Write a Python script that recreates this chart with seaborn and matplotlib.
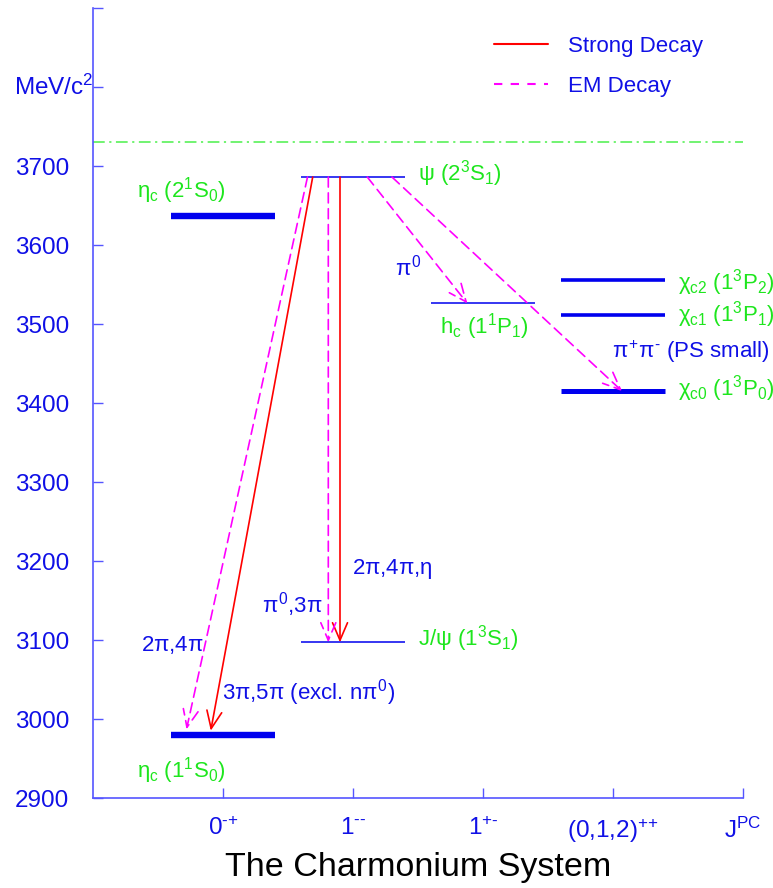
import matplotlib
matplotlib.use("Agg")
import matplotlib.pyplot as plt
from matplotlib.lines import Line2D
from matplotlib.transforms import blended_transform_factory
import seaborn as sns

HY = "\u2010"  # short hyphen for parity superscripts

# J^PC columns along the x axis
jpc_positions = [1, 2, 3, 4, 5]
jpc_labels = [r"0$^{" + HY + "{+}}$", r"1$^{" + HY + HY + "}$", r"1$^{+" + HY + "}$",
              r"(0,1,2)$^{+{+}}$", r"J$^{PC}$"]

# mass axis (MeV/c^2)
mass_ticks = [2900, 3000, 3100, 3200, 3300, 3400, 3500, 3600, 3700, 3800, 3900]
mass_tick_labels = ["2900", "3000", "3100", "3200", "3300", "3400", "3500",
                    "3600", "3700", "", ""]
mass_unit = r"MeV/c$^2$"

# charmonium states
state_names = [r"$\eta_c$ (1$^1$S$_0$)", r"$\eta_c$ (2$^1$S$_0$)",
               r"J/$\psi$ (1$^3$S$_1$)", r"$\psi$ (2$^3$S$_1$)",
               r"h$_c$ (1$^1$P$_1$)", r"$\chi_{c0}$ (1$^3$P$_0$)",
               r"$\chi_{c1}$ (1$^3$P$_1$)", r"$\chi_{c2}$ (1$^3$P$_2$)"]
state_mass = [2980, 3637, 3097, 3686, 3526, 3415, 3511, 3556]
state_column = [1, 1, 2, 2, 3, 4, 4, 4]

# open-charm (D Dbar) threshold
dd_threshold = 3730

# transitions: parent index, daughter index, type, decay products
trans_from = [3, 3, 3, 3, 3, 3]
trans_to = [0, 2, 0, 2, 4, 5]
trans_kind = ["strong", "strong", "em", "em", "em", "em"]

decay_texts = [r"$\pi^0$", r"$\pi^{+}$$\pi^{" + HY + "}$ (PS small)",
               r"2$\pi$,4$\pi$,$\eta$", r"$\pi^0$,3$\pi$", r"2$\pi$,4$\pi$",
               r"3$\pi$,5$\pi$ (excl. n$\pi^0$)"]

# ---- layout / style ----
level_half = 0.4
level_lw = [4.6, 4.6, 1.1, 1.1, 1.1, 3.6, 2.6, 2.6]
label_xy = [(0.34, 2935), (0.34, 3669), (2.5, 3102), (2.5, 3691), (2.67, 3497),
            (4.5, 3418), (4.5, 3512), (4.5, 3553)]
trans_x = [(1.69, 0.90), (1.90, 1.90), (1.65, 0.71), (1.81, 1.81),
           (2.11, 2.88), (2.30, 4.07)]
trans_shrink = [3, 0, 4, 0, 0, 0]
decay_xy = [(2.32, 3572), (3.99, 3465), (1.99, 3190), (1.30, 3145),
            (0.37, 3094), (0.99, 3034)]

BLUE = "#0000ee"
TEXT_BLUE = "#1010e6"
SPINE_BLUE = "#5555ff"
GREEN = "#1ee61e"
LINE_GREEN = "#66f266"
RED = "#ff0000"
MAGENTA = "#ff00ff"

sns.set_theme(style="white")
plt.rcParams["font.family"] = ["Liberation Sans", "DejaVu Sans"]
plt.rcParams["mathtext.fontset"] = "custom"
plt.rcParams["mathtext.rm"] = "Liberation Sans"
plt.rcParams["mathtext.it"] = "Liberation Sans"
plt.rcParams["mathtext.bf"] = "Liberation Sans:bold"
plt.rcParams["mathtext.sf"] = "Liberation Sans"

fig = plt.figure(figsize=(7.73, 8.88), dpi=100)
ax = fig.add_axes([93 / 773, 1 - 798 / 888, 650 / 773, 790 / 888])
ax.set_xlim(0, 5)
ax.set_ylim(2900, 3900)

# threshold line
ax.axhline(dd_threshold, xmin=0, xmax=1.0, color=LINE_GREEN, lw=1.3,
           ls=(0, (6.5, 2.5, 1.2, 2.5)), clip_on=False)

# energy levels
for name, m, col, lw, (lx, ly) in zip(state_names, state_mass, state_column,
                                      level_lw, label_xy):
    ax.hlines(m, col - level_half, col + level_half, color=BLUE, lw=lw)
    ax.text(lx, ly, name, color=GREEN, fontsize=16, ha="left", va="center")

# transitions
for f, t, kind, (x0, x1), sh in zip(trans_from, trans_to, trans_kind,
                                     trans_x, trans_shrink):
    style = dict(color=RED, lw=1.2, ls="-") if kind == "strong" else \
        dict(color=MAGENTA, lw=1.2, ls=(0, (6, 3.5)))
    ax.annotate("", xy=(x1, state_mass[t]), xytext=(x0, state_mass[f]),
                arrowprops=dict(arrowstyle="->,head_length=0.7,head_width=0.3",
                                mutation_scale=18, shrinkA=0, shrinkB=sh,
                                **style))

for txt, (tx, ty) in zip(decay_texts, decay_xy):
    ax.text(tx, ty, txt, color=TEXT_BLUE, fontsize=16, ha="left", va="center")

# axes styling
sns.despine(ax=ax)
for side in ("left", "bottom"):
    ax.spines[side].set_color(SPINE_BLUE)
    ax.spines[side].set_linewidth(1.2)
ax.set_xticks(jpc_positions)
ax.set_xticklabels(jpc_labels)
ax.set_yticks(mass_ticks)
ax.set_yticklabels(mass_tick_labels)
ax.tick_params(axis="both", direction="in", length=7.5, width=1.0,
               color=SPINE_BLUE, labelcolor=TEXT_BLUE, labelsize=17.5,
               left=True, bottom=True)
ax.tick_params(axis="y", pad=17)
ax.tick_params(axis="x", pad=14)
ax.grid(False)

ax.text(-0.1215, 3800, mass_unit, color=TEXT_BLUE, fontsize=17.5,
        ha="left", va="center",
        transform=blended_transform_factory(ax.transAxes, ax.transData))

ax.set_xlabel("The Charmonium System", fontsize=24.5, color="black", labelpad=5)

handles = [Line2D([], [], color=RED, lw=1.5),
           Line2D([], [], color=MAGENTA, lw=1.5, ls=(0, (4, 4)))]
ax.legend(handles, ["Strong Decay", "EM Decay"], loc="upper left",
          bbox_to_anchor=(494 / 773, 1 - 36 / 888), bbox_transform=fig.transFigure,
          frameon=False, fontsize=16, labelcolor=TEXT_BLUE, handlelength=2.45,
          handletextpad=0.9, labelspacing=0.85, borderpad=0, borderaxespad=0)

fig.savefig("out.png", dpi=100)
